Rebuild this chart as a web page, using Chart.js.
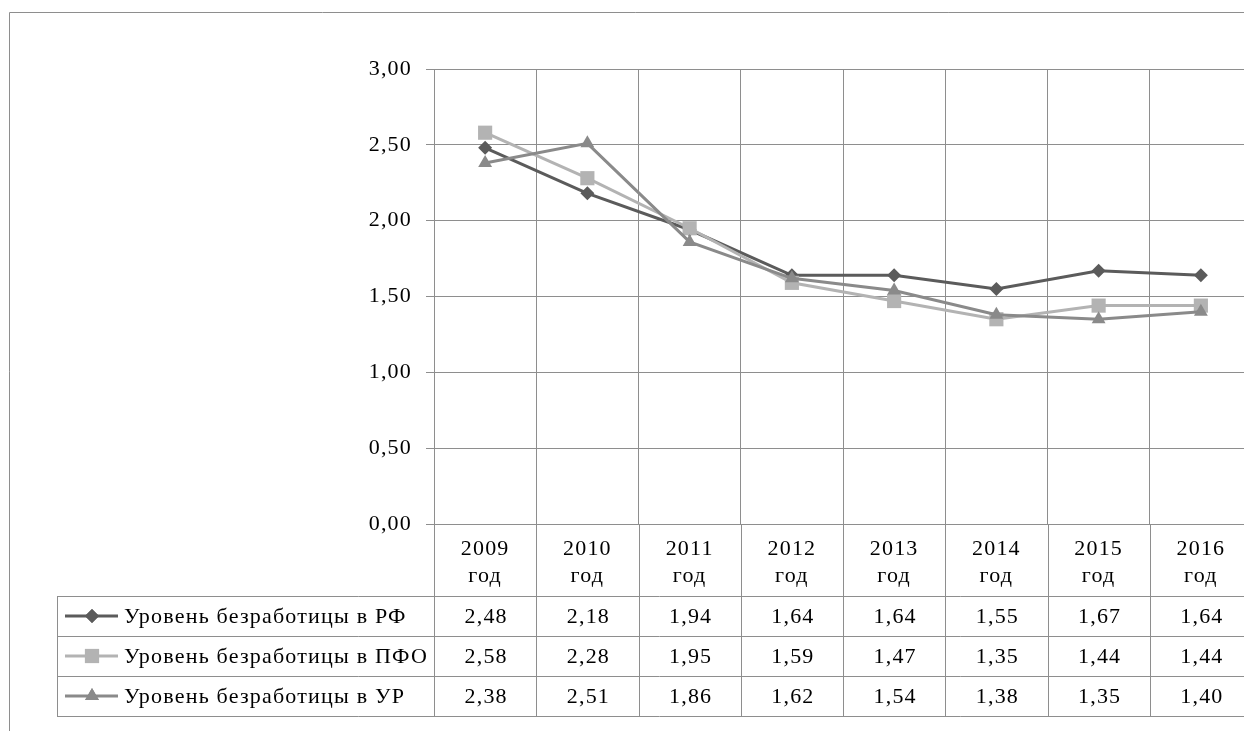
<!DOCTYPE html>
<html>
<head>
<meta charset="utf-8">
<script src="https://cdn.jsdelivr.net/npm/chart.js@4/dist/chart.umd.min.js"></script>
<style>
  html, body { margin: 0; padding: 0; background: #fff; overflow: hidden; }
  #wrap { width: 1262px; height: 731px; }
</style>
</head>
<body>
<div id="wrap"><canvas id="lineChart" width="1262" height="731"></canvas></div>
<script>
var years = ['2009', '2010', '2011', '2012', '2013', '2014', '2015', '2016'];
var seriesNames = ['Уровень безработицы в РФ', 'Уровень безработицы в ПФО', 'Уровень безработицы в УР'];
var rfValues  = [2.48, 2.18, 1.94, 1.64, 1.64, 1.55, 1.67, 1.64];
var pfoValues = [2.58, 2.28, 1.95, 1.59, 1.47, 1.35, 1.44, 1.44];
var urValues  = [2.38, 2.51, 1.86, 1.62, 1.54, 1.38, 1.35, 1.40];

var FONT = "'Liberation Serif', 'Times New Roman', Tinos, 'DejaVu Serif', serif";
var GRID = '#8e8e8e';
var TEXT = '#000';

function fmt(v) {
  return v.toFixed(2).replace('.', ',');
}

// outer frame + data table under the plot
var tablePlugin = {
  id: 'tablePlugin',
  beforeDraw: function(chart) {
    chart.ctx.letterSpacing = '1.2px';
  },
  afterDraw: function(chart) {
    var ctx = chart.ctx;
    var area = chart.chartArea;
    var n = years.length;
    var colW = area.width / n;
    var tableTop = area.bottom + 72;
    var rowH = 40;
    var tableBottom = tableTop + rowH * 3;
    var tableLeft = 57;
    var right = chart.width;

    ctx.save();
    ctx.strokeStyle = GRID;
    ctx.lineWidth = 1;
    ctx.beginPath();
    // frame
    ctx.moveTo(9.5, 731); ctx.lineTo(9.5, 12.5); ctx.lineTo(right, 12.5);
    // column lines through header and rows
    for (var k = 0; k <= n; k++) {
      var x = Math.round(area.left + k * colW) + 0.5;
      ctx.moveTo(x, area.bottom); ctx.lineTo(x, tableBottom);
    }
    // row lines
    for (var r = 0; r <= 3; r++) {
      var y = Math.round(tableTop + r * rowH) + 0.5;
      ctx.moveTo(tableLeft, y); ctx.lineTo(right, y);
    }
    ctx.moveTo(tableLeft + 0.5, tableTop); ctx.lineTo(tableLeft + 0.5, tableBottom);
    ctx.stroke();

    ctx.font = '22px ' + FONT;
    ctx.textBaseline = 'middle';
    chart.data.datasets.forEach(function(ds, i) {
      var cy = tableTop + rowH * i + rowH / 2;
      // legend key
      ctx.strokeStyle = ds.borderColor;
      ctx.lineWidth = 3;
      ctx.beginPath();
      ctx.moveTo(65, cy); ctx.lineTo(118, cy);
      ctx.stroke();
      ctx.fillStyle = ds.pointBackgroundColor;
      Chart.helpers.drawPoint(ctx, {pointStyle: ds.pointStyle, radius: ds.pointRadius, rotation: 0, borderWidth: 0}, 92, cy);
      ctx.fill();
      ctx.fillStyle = TEXT;
      ctx.textAlign = 'left';
      ctx.fillText(ds.label, 124, cy + 1);
      ctx.textAlign = 'center';
      ds.data.forEach(function(v, j) {
        ctx.fillText(fmt(v), chart.scales.x.getPixelForValue(j) + 1, cy + 1);
      });
    });
    ctx.restore();
  }
};

var ctx = document.getElementById('lineChart');
var lineChart = new Chart(ctx, {
  type: 'line',
  data: {
    labels: years.map(function(y) { return [y, 'год']; }),
    datasets: [
      {
        label: seriesNames[0],
        data: rfValues,
        borderColor: '#5b5b5b',
        backgroundColor: '#5b5b5b',
        pointBackgroundColor: '#5b5b5b',
        pointBorderWidth: 0,
        pointStyle: 'rectRot',
        pointRadius: 7,
        borderWidth: 3,
        order: 3
      },
      {
        label: seriesNames[1],
        data: pfoValues,
        borderColor: '#b3b3b3',
        backgroundColor: '#b3b3b3',
        pointBackgroundColor: '#b3b3b3',
        pointBorderWidth: 0,
        pointStyle: 'rect',
        pointRadius: 10,
        borderWidth: 3,
        order: 2
      },
      {
        label: seriesNames[2],
        data: urValues,
        borderColor: '#8a8a8a',
        backgroundColor: '#8a8a8a',
        pointBackgroundColor: '#8a8a8a',
        pointBorderWidth: 0,
        pointStyle: 'triangle',
        pointRadius: 8,
        borderWidth: 3,
        order: 1
      }
    ]
  },
  options: {
    responsive: false,
    animation: false,
    devicePixelRatio: 1,
    layout: { padding: { top: 69, right: 8, left: 0, bottom: 0 } },
    plugins: {
      legend: { display: false },
      tooltip: { enabled: false }
    },
    scales: {
      x: {
        offset: true,
        grid: { offset: true, color: GRID, drawTicks: false },
        border: { color: GRID },
        ticks: {
          autoSkip: false,
          maxRotation: 0,
          padding: 12,
          color: TEXT,
          font: { family: FONT, size: 22, lineHeight: 1.22 }
        },
        afterFit: function(scale) { scale.height = 207; }
      },
      y: {
        min: 0,
        max: 3,
        grid: { color: GRID, tickLength: 8 },
        border: { color: GRID },
        ticks: {
          stepSize: 0.5,
          padding: 14,
          color: TEXT,
          font: { family: FONT, size: 22 },
          callback: function(v) { return fmt(v); }
        },
        afterFit: function(scale) { scale.width = 434; }
      }
    }
  },
  plugins: [tablePlugin]
});
</script>
</body>
</html>
